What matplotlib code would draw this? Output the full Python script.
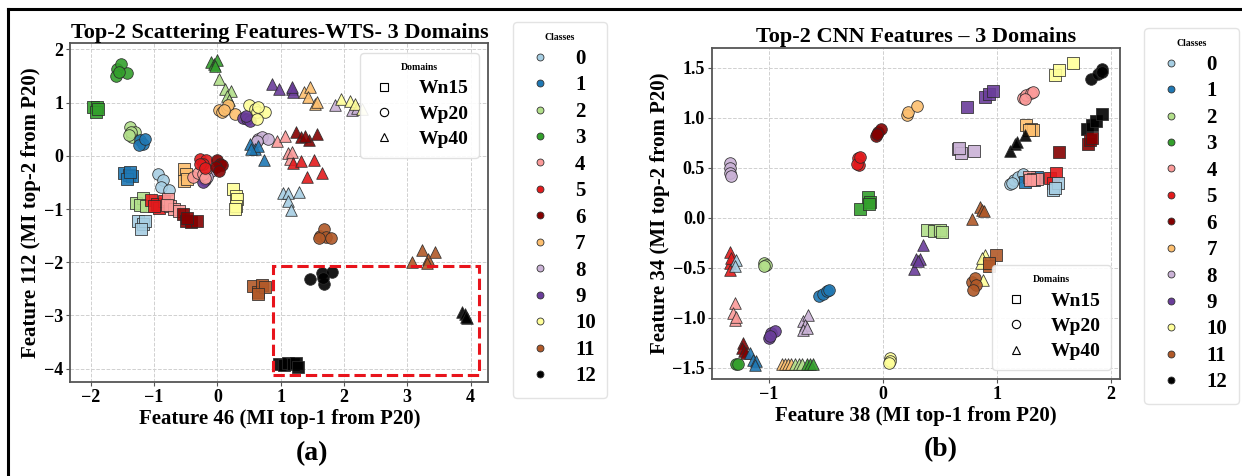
import numpy as np
import matplotlib
matplotlib.use("Agg")
import matplotlib.pyplot as plt
from matplotlib.lines import Line2D
from matplotlib.patches import Rectangle

plt.rcParams['font.family'] = ['Liberation Serif', 'DejaVu Serif']
plt.rcParams['font.weight'] = 'bold'
plt.rcParams['axes.labelweight'] = 'bold'
plt.rcParams['axes.titleweight'] = 'bold'

# class colours (0..12) and domain markers
class_colors = ['#a6cee3', '#1f78b4', '#b2df8a', '#33a02c', '#fb9a99', '#e31a1c',
                '#850000', '#fdbf6f', '#cab2d6', '#6a3d9a', '#ffff99', '#b15928', '#000000']
class_labels = [str(i) for i in range(13)]
domains = ['Wn15', 'Wp20', 'Wp40']
domain_markers = {'Wn15': 's', 'Wp20': 'o', 'Wp40': '^'}

# ---- panel (a): scattering features, one entry per cluster ----
a_cls = [3, 3, 3, 2, 2, 1, 1, 0, 2, 0, 5, 4, 6, 7, 9, 8, 4, 5, 6, 10,
         7, 9, 10, 8, 1, 4, 9, 7, 8, 10, 6, 5, 0, 11, 11, 11, 12, 12, 12]
a_dom = ['Wp20', 'Wn15', 'Wp40', 'Wp40', 'Wp20', 'Wp20', 'Wn15', 'Wp20', 'Wn15', 'Wn15',
         'Wn15', 'Wn15', 'Wn15', 'Wn15', 'Wp20', 'Wp20', 'Wp20', 'Wp20', 'Wp20', 'Wn15',
         'Wp20', 'Wp20', 'Wp20', 'Wp20', 'Wp40', 'Wp40', 'Wp40', 'Wp40', 'Wp40', 'Wp40',
         'Wp40', 'Wp40', 'Wp40', 'Wp20', 'Wn15', 'Wp40', 'Wp20', 'Wn15', 'Wp40']
a_x = [[-1.58, -1.52, -1.60, -1.43, -1.55],
       [-1.97, -1.90, -1.92, -1.88],
       [-0.10, -0.05, 0.00, -0.03],
       [0.03, 0.12, 0.22, 0.16, 0.18],
       [-1.38, -1.30, -1.34, -1.36, -1.40],
       [-1.22, -1.18, -1.24, -1.15],
       [-1.47, -1.40, -1.35, -1.43, -1.38],
       [-0.94, -0.86, -0.89, -0.76],
       [-1.28, -1.18, -1.22, -1.12],
       [-1.25, -1.18, -1.14, -1.20],
       [-1.05, -0.95, -0.92, -0.85, -1.00],
       [-0.78, -0.75, -0.68, -0.60, -0.80],
       [-0.55, -0.50, -0.42, -0.32, -0.48],
       [-0.53, -0.50, -0.52, -0.48],
       [-0.20, -0.18, -0.22],
       [-0.14, -0.10, -0.16],
       [-0.38, -0.30, -0.22, -0.18, -0.20],
       [-0.27, -0.18, -0.22, -0.28, -0.20],
       [0.00, 0.05, 0.08, -0.02, 0.03],
       [0.24, 0.30, 0.31, 0.29, 0.28],
       [0.02, 0.07, 0.15, 0.17, 0.28, 0.10],
       [0.40, 0.47, 0.52, 0.45],
       [0.50, 0.60, 0.62, 0.75, 0.63, 0.65],
       [0.65, 0.70, 0.80, 0.62],
       [0.52, 0.60, 0.65, 0.53, 0.74],
       [0.94, 1.07, 1.11, 1.15, 1.18],
       [0.87, 0.97, 1.18, 1.19, 1.18],
       [1.37, 1.47, 1.43, 1.55, 1.58],
       [1.86, 2.12, 2.20],
       [1.95, 2.09, 2.18, 2.28],
       [1.25, 1.32, 1.45, 1.57, 1.39],
       [1.19, 1.32, 1.53, 1.42, 1.65],
       [1.03, 1.12, 1.11, 1.29, 1.17],
       [1.62, 1.68, 1.72, 1.80, 1.60],
       [0.57, 0.65, 0.70, 0.75, 0.64],
       [3.08, 3.24, 3.33, 3.43, 3.31],
       [1.47, 1.66, 1.69, 1.81, 1.67],
       [0.98, 1.05, 1.12, 1.20, 1.25, 1.27],
       [3.86, 3.91, 3.95, 3.93]]
a_y = [[1.64, 1.72, 1.50, 1.56, 1.58],
       [0.91, 0.92, 0.82, 0.88],
       [1.77, 1.72, 1.80, 1.69],
       [1.44, 1.25, 1.22, 1.12, 1.05],
       [0.55, 0.45, 0.36, 0.45, 0.40],
       [0.30, 0.22, 0.20, 0.32],
       [-0.33, -0.36, -0.38, -0.44, -0.30],
       [-0.34, -0.46, -0.58, -0.65],
       [-0.88, -0.80, -0.92, -0.95],
       [-1.22, -1.28, -1.23, -1.37],
       [-0.83, -0.90, -0.98, -0.84, -0.95],
       [-0.82, -0.95, -1.00, -1.03, -0.92],
       [-1.10, -1.22, -1.25, -1.23, -1.17],
       [-0.25, -0.35, -0.48, -0.43],
       [-0.45, -0.40, -0.50],
       [-0.32, -0.28, -0.40],
       [-0.40, -0.32, -0.35, -0.25, -0.42],
       [-0.06, -0.07, -0.15, -0.15, -0.22],
       [-0.07, -0.15, -0.18, -0.20, -0.28],
       [-0.62, -0.75, -0.82, -0.95, -1.00],
       [0.86, 0.82, 0.90, 0.96, 0.79, 0.87],
       [0.72, 0.70, 0.65, 0.75],
       [0.95, 0.88, 0.82, 0.82, 0.70, 0.92],
       [0.32, 0.36, 0.31, 0.28],
       [0.22, 0.12, 0.18, 0.12, -0.08],
       [0.28, 0.37, 0.05, -0.05, 0.08],
       [1.36, 1.25, 1.26, 1.20, 1.30],
       [1.20, 1.29, 1.10, 0.98, 1.02],
       [0.95, 0.87, 0.90],
       [1.06, 1.03, 0.97, 0.88],
       [0.44, 0.36, 0.30, 0.41, 0.38],
       [-0.14, -0.09, -0.08, -0.40, -0.32],
       [-0.69, -0.70, -0.84, -0.68, -1.02],
       [-1.50, -1.38, -1.53, -1.55, -1.55],
       [-2.45, -2.55, -2.42, -2.47, -2.60],
       [-1.99, -1.77, -1.93, -1.80, -2.02],
       [-2.31, -2.21, -2.40, -2.19, -2.30],
       [-3.91, -3.93, -3.90, -3.91, -3.90, -3.97],
       [-2.93, -2.98, -3.04, -3.02]]
# highlighted region in panel (a): x0, y0, width, height
a_box = (0.88, -4.12, 3.25, 2.05)

# ---- panel (b): CNN features ----
b_cls = [10, 12, 9, 4, 7, 6, 5, 8, 7, 12, 12, 6, 8, 3, 0, 1, 4, 5, 0, 11,
         2, 9, 10, 11, 11, 5, 0, 2, 1, 4, 8, 9, 6, 1, 3, 7, 2, 3, 10]
b_dom = ['Wn15', 'Wp20', 'Wn15', 'Wp20', 'Wp20', 'Wp20', 'Wp20', 'Wn15', 'Wn15', 'Wn15',
         'Wp40', 'Wn15', 'Wp20', 'Wn15', 'Wp20', 'Wn15', 'Wn15', 'Wn15', 'Wn15', 'Wp40',
         'Wn15', 'Wp40', 'Wp40', 'Wn15', 'Wp20', 'Wp40', 'Wp40', 'Wp20', 'Wp20', 'Wp40',
         'Wp40', 'Wp20', 'Wp40', 'Wp40', 'Wp20', 'Wp40', 'Wp40', 'Wp40', 'Wp20']
b_x = [[1.51, 1.55, 1.67],
       [1.83, 1.89, 1.92, 1.92],
       [0.74, 0.90, 0.93, 0.97],
       [1.23, 1.26, 1.30, 1.32, 1.25],
       [0.21, 0.22, 0.30],
       [-0.06, -0.04, -0.02, -0.05],
       [-0.22, -0.21, -0.23, -0.20],
       [0.66, 0.69, 0.80, 0.67],
       [1.26, 1.30, 1.32, 1.28],
       [1.79, 1.84, 1.87, 1.92],
       [1.12, 1.16, 1.18, 1.25],
       [1.80, 1.82, 1.84, 1.55],
       [-1.34, -1.34, -1.34, -1.33],
       [-0.20, -0.13, -0.11, -0.12],
       [1.12, 1.15, 1.19, 1.23, 1.13],
       [1.25, 1.35, 1.33],
       [1.28, 1.32, 1.35, 1.29],
       [1.47, 1.52, 1.49],
       [1.49, 1.54, 1.51],
       [0.78, 0.85, 0.87, 0.89],
       [0.39, 0.45, 0.50, 0.52],
       [0.27, 0.29, 0.33, 0.35, 0.31],
       [0.90, 0.86, 0.88, 0.87],
       [0.99, 0.93, 0.93],
       [0.78, 0.81, 0.82, 0.79],
       [-1.34, -1.34, -1.34, -1.33],
       [-1.29, -1.30],
       [-1.04, -1.03, -1.04],
       [-0.56, -0.53, -0.49, -0.47],
       [-1.30, -1.32, -1.30, -1.29],
       [-0.70, -0.66, -0.68, -0.70, -0.67],
       [-1.00, -0.98, -0.95, -0.99],
       [-1.23, -1.24, -1.22, -1.20],
       [-1.17, -1.14, -1.11, -1.12],
       [-1.29, -1.27],
       [-0.89, -0.86, -0.83, -0.81],
       [-0.77, -0.74, -0.71],
       [-0.67, -0.64, -0.61],
       [0.06, 0.06, 0.05]]
b_y = [[1.43, 1.48, 1.55],
       [1.39, 1.44, 1.49, 1.46],
       [1.11, 1.21, 1.24, 1.27],
       [1.20, 1.23, 1.25, 1.26, 1.19],
       [1.03, 1.06, 1.12],
       [0.82, 0.86, 0.89, 0.84],
       [0.60, 0.53, 0.54, 0.61],
       [0.69, 0.65, 0.67, 0.70],
       [0.93, 0.89, 0.88, 0.88],
       [0.89, 0.93, 0.97, 1.04],
       [0.67, 0.74, 0.76, 0.83],
       [0.74, 0.78, 0.80, 0.66],
       [0.55, 0.50, 0.45, 0.42],
       [0.09, 0.21, 0.16, 0.14],
       [0.34, 0.38, 0.41, 0.44, 0.35],
       [0.36, 0.41, 0.38],
       [0.41, 0.39, 0.39, 0.38],
       [0.40, 0.45, 0.35],
       [0.28, 0.35, 0.30],
       [-0.01, 0.11, 0.08, 0.07],
       [-0.12, -0.13, -0.12, -0.14],
       [-0.51, -0.41, -0.41, -0.27, -0.43],
       [-0.37, -0.45, -0.62, -0.40],
       [-0.37, -0.48, -0.45],
       [-0.64, -0.60, -0.67, -0.72],
       [-0.34, -0.45, -0.52, -0.40],
       [-0.42, -0.48],
       [-0.45, -0.47, -0.48],
       [-0.78, -0.76, -0.73, -0.72],
       [-0.85, -0.95, -1.02, -0.99],
       [-1.03, -0.97, -1.07, -1.12, -1.10],
       [-1.20, -1.15, -1.13, -1.18],
       [-1.25, -1.30, -1.33, -1.35],
       [-1.35, -1.42, -1.43, -1.47],
       [-1.46, -1.46],
       [-1.46, -1.46, -1.46, -1.46],
       [-1.46, -1.46, -1.46],
       [-1.46, -1.46, -1.46],
       [-1.40, -1.43, -1.45]]


def draw_panel(ax, cls, dom, xs, ys, title, xlabel, ylabel):
    for c, d, x, y in zip(cls, dom, xs, ys):
        ax.scatter(x, y, s=70, marker=domain_markers[d], color=class_colors[c],
                   edgecolors='#2a2a2a', linewidths=0.6, alpha=0.9, zorder=3)
    ax.set_title(title, fontsize=16, pad=4)
    ax.set_xlabel(xlabel, fontsize=15, labelpad=2)
    ax.set_ylabel(ylabel, fontsize=15, labelpad=2)
    ax.grid(True, linestyle='--', color='#d0d0d0', linewidth=0.7)
    ax.tick_params(labelsize=13, length=3, width=0.8, color='#555555', pad=2)
    for sp in ax.spines.values():
        sp.set_color('#555555')
        sp.set_linewidth(1.3)


def class_legend(fig, anchor):
    handles = [Line2D([], [], marker='o', linestyle='', markersize=5,
                      markerfacecolor=class_colors[i], markeredgecolor='#333333',
                      markeredgewidth=0.6) for i in range(13)]
    fig.legend(handles, class_labels, title='Classes', loc='upper left',
               bbox_to_anchor=anchor, prop={'size': 15, 'weight': 'bold'},
               title_fontproperties={'size': 7, 'weight': 'bold'},
               labelspacing=0.31, handlelength=1.5, handletextpad=0.93,
               borderpad=0.55, borderaxespad=0,
               frameon=True, fancybox=True, edgecolor='#dddddd')


def domain_legend(ax, loc, anchor):
    handles = [Line2D([], [], marker=domain_markers[d], linestyle='', markersize=6,
                      markerfacecolor='white', markeredgecolor='black',
                      markeredgewidth=0.8) for d in domains]
    ax.legend(handles, domains, title='Domains', loc=loc, bbox_to_anchor=anchor,
              prop={'size': 14, 'weight': 'bold'},
              title_fontproperties={'size': 7, 'weight': 'bold'},
              labelspacing=0.4, handlelength=1.5, handletextpad=1.05,
              borderpad=0.5, borderaxespad=0,
              frameon=True, fancybox=True, edgecolor='#dddddd', framealpha=0.9)


fig = plt.figure(figsize=(12.42, 4.76), dpi=100)

ax1 = fig.add_axes([0.0567, 0.1975, 0.3365, 0.712])
draw_panel(ax1, a_cls, a_dom, a_x, a_y, 'Top-2 Scattering Features-WTS- 3 Domains',
           'Feature 46 (MI top-1 from P20)', 'Feature 112 (MI top-2 from P20)')
ax1.set_xlim(-2.32, 4.28)
ax1.set_ylim(-4.25, 2.12)
ax1.set_xticks([-2, -1, 0, 1, 2, 3, 4])
ax1.set_yticks([-4, -3, -2, -1, 0, 1, 2])
ax1.add_patch(Rectangle(a_box[:2], a_box[2], a_box[3], fill=False, edgecolor='#e8141c',
                        linestyle='--', linewidth=2.2, zorder=4))
domain_legend(ax1, 'upper right', (0.977, 0.97))

ax2 = fig.add_axes([0.5733, 0.2038, 0.3283, 0.6954])
draw_panel(ax2, b_cls, b_dom, b_x, b_y, 'Top-2 CNN Features \u2013 3 Domains',
           'Feature 38 (MI top-1 from P20)', 'Feature 34 (MI top-2 from P20)')
ax2.set_xlim(-1.5, 2.08)
ax2.set_ylim(-1.61, 1.70)
ax2.set_xticks([-1, 0, 1, 2])
ax2.set_yticks([-1.5, -1.0, -0.5, 0.0, 0.5, 1.0, 1.5])
domain_legend(ax2, 'lower right', (0.978, 0.027))

class_legend(fig, (0.413, 0.9538))
class_legend(fig, (0.9214, 0.9412))

fig.text(0.2512, 0.048, '(a)', ha='center', va='center', fontsize=20, fontweight='bold')
fig.text(0.7577, 0.055, '(b)', ha='center', va='center', fontsize=20, fontweight='bold')

# outer frame (top and left edges visible)
fig.add_artist(Line2D([0.0062, 1.0], [0.981, 0.981], color='black', linewidth=2.2,
                      transform=fig.transFigure))
fig.add_artist(Line2D([0.0062, 0.0062], [0.0, 0.981], color='black', linewidth=2.2,
                      transform=fig.transFigure))

fig.savefig('out.png', dpi=100)
